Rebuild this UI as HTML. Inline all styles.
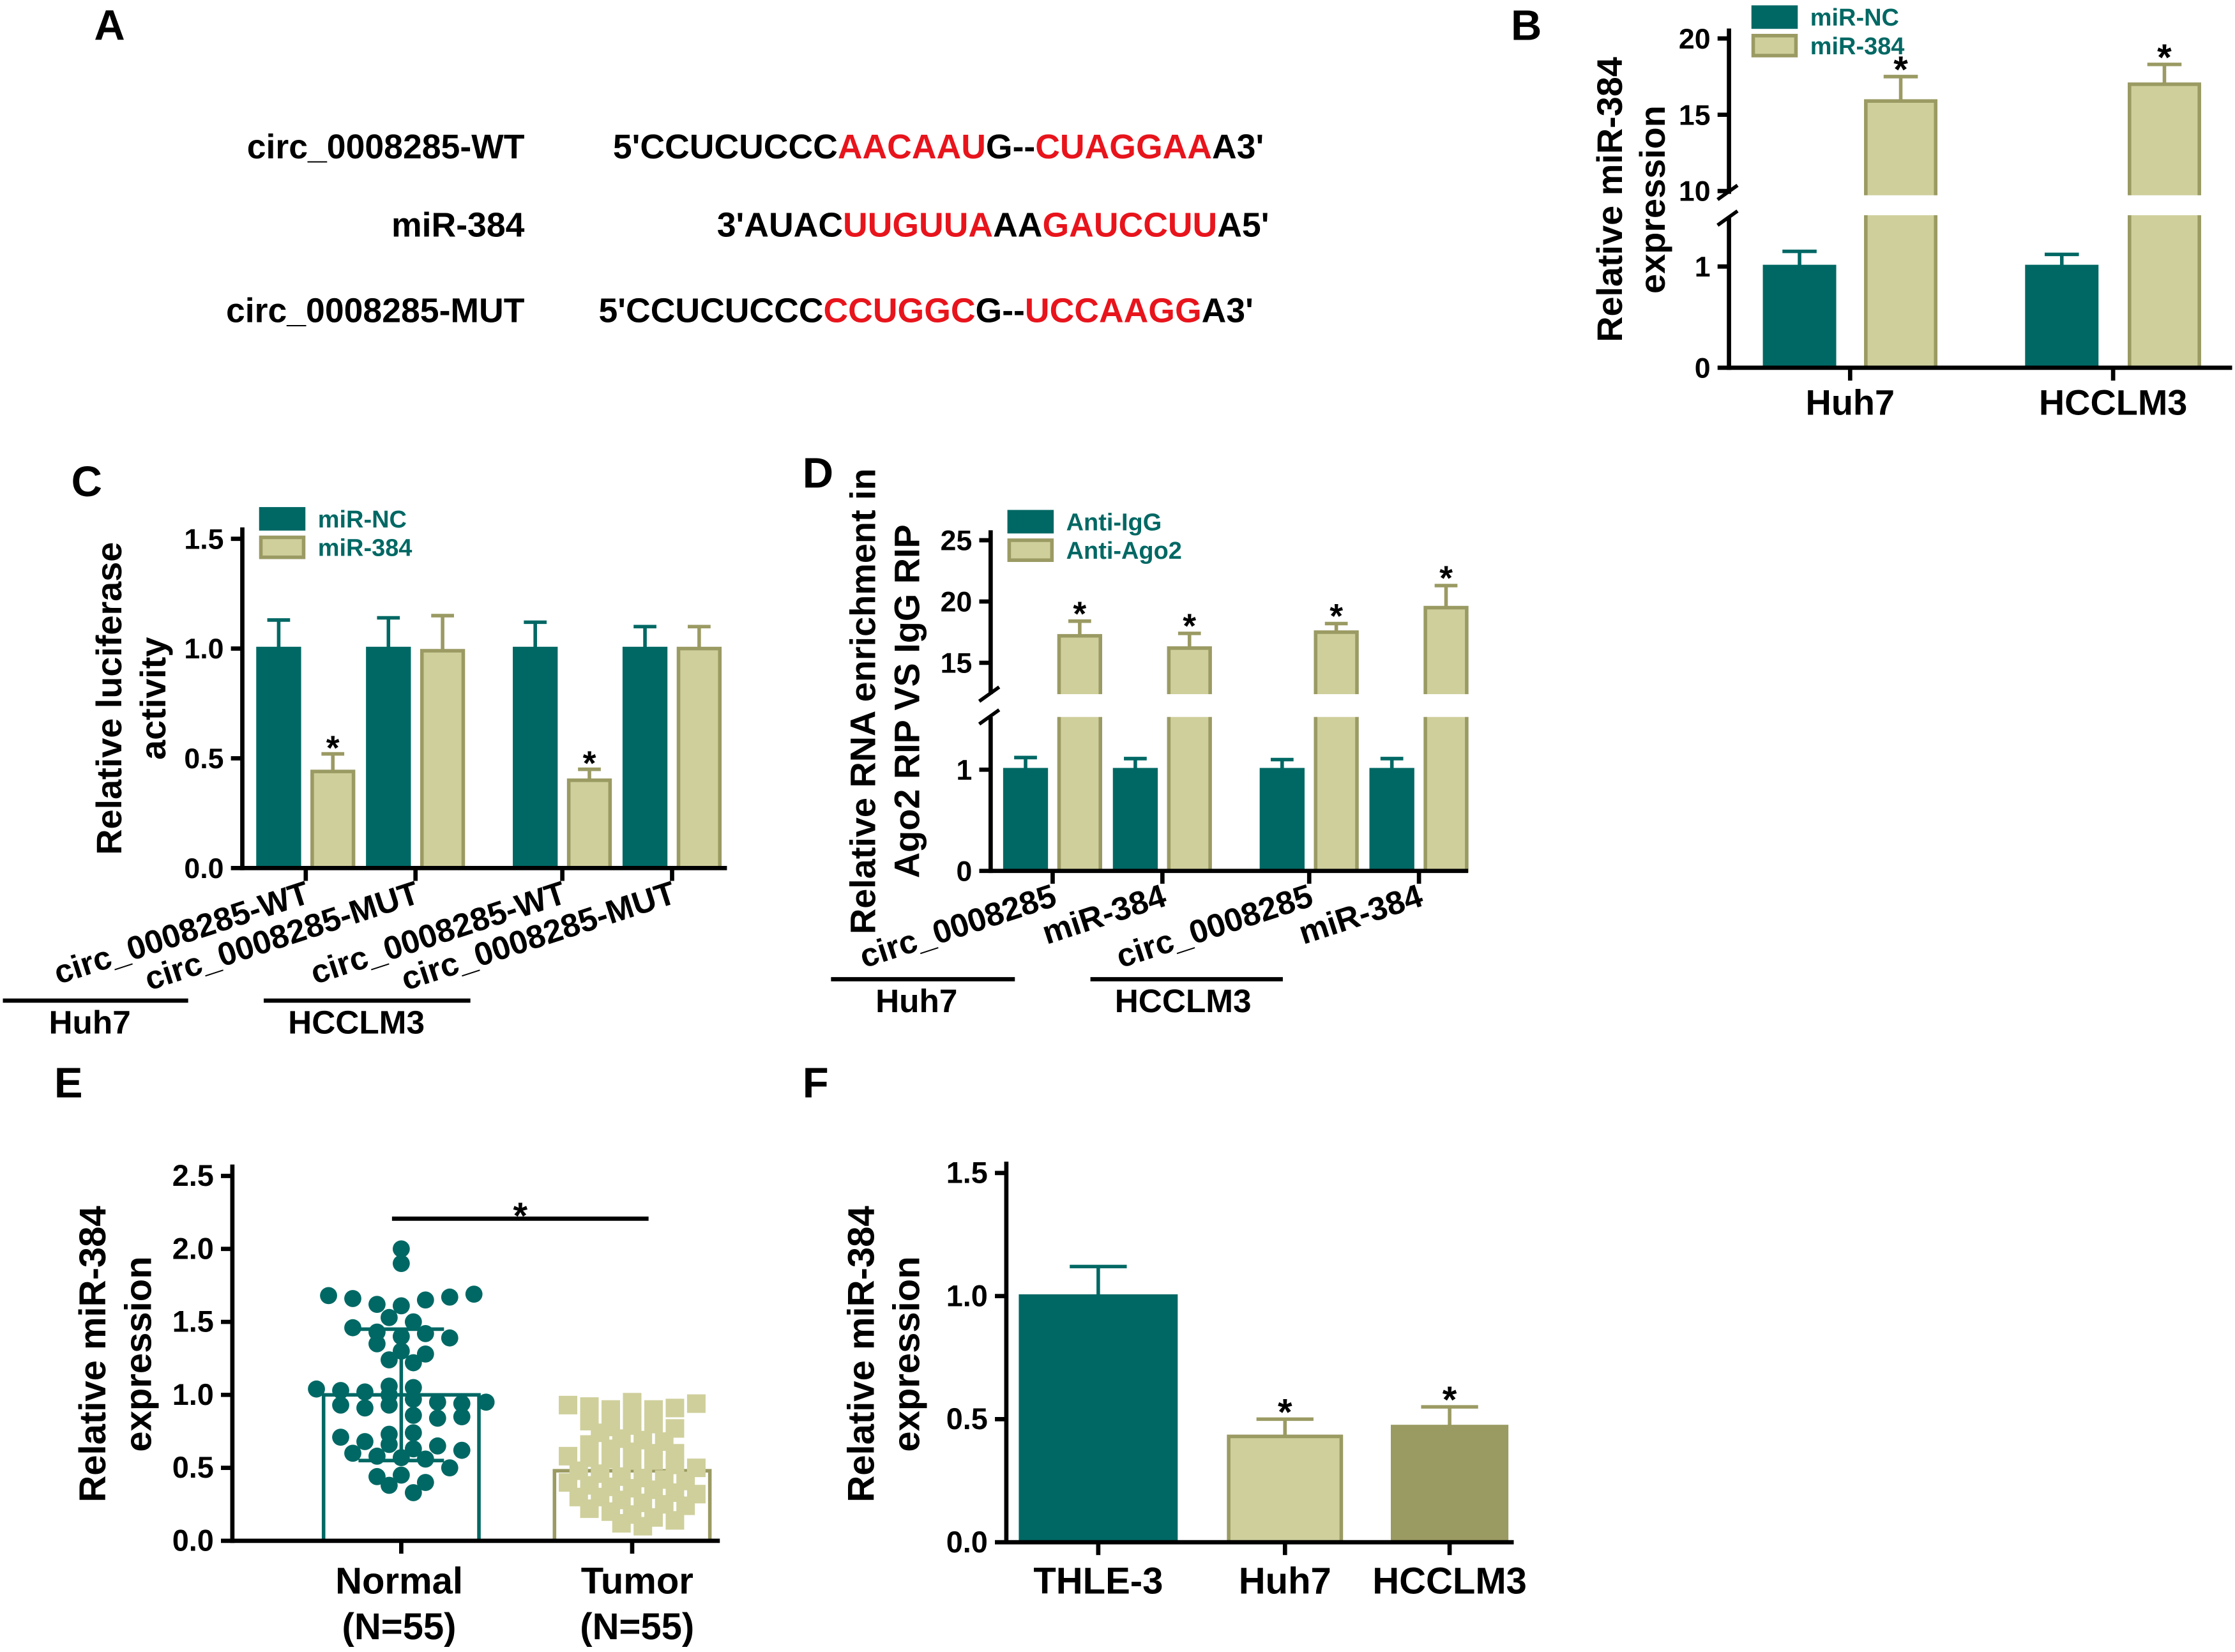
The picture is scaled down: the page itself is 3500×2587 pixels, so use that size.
<!DOCTYPE html>
<html><head><meta charset="utf-8">
<style>
html,body{margin:0;padding:0;background:#fff;}
svg{display:block;}
text{font-family:"Liberation Sans",Arial,sans-serif;font-weight:bold;}
</style></head>
<body>
<svg id="fig" width="3500" height="2587" viewBox="0 0 1568 1159" xmlns="http://www.w3.org/2000/svg">
<rect width="1568" height="1159" fill="#fff"/>
<g font-size="24">
<text x="66" y="28" font-size="30">A</text>
<text x="368" y="111" text-anchor="end">circ_0008285-WT</text>
<text x="368" y="166" text-anchor="end">miR-384</text>
<text x="368" y="226" text-anchor="end">circ_0008285-MUT</text>
<text x="430" y="111">5'CCUCUCCC<tspan fill="#e8141c">AACAAU</tspan>G--<tspan fill="#e8141c">CUAGGAA</tspan>A3'</text>
<text x="503" y="166">3'AUAC<tspan fill="#e8141c">UUGUUA</tspan>AA<tspan fill="#e8141c">GAUCCUU</tspan>A5'</text>
<text x="420" y="226">5'CCUCUCCC<tspan fill="#e8141c">CCUGGC</tspan>G--<tspan fill="#e8141c">UCCAAGG</tspan>A3'</text>
</g>
<g id="dyn"></g>
</svg>
<script>
const bCategories = ["Huh7","HCCLM3"];
const bNC = [1.0, 1.0];
const bNCerr = [0.15, 0.12];
const bMiR = [15.9, 17.0];
const bMiRerr = [1.6, 1.3];

const cCategories = ["circ_0008285-WT","circ_0008285-MUT","circ_0008285-WT","circ_0008285-MUT"];
const cNC = [1.0, 1.0, 1.0, 1.0];
const cNCerr = [0.13, 0.14, 0.12, 0.1];
const cMiR = [0.44, 0.99, 0.4, 1.0];
const cMiRerr = [0.08, 0.16, 0.05, 0.1];
const cTicks = [0.0, 0.5, 1.0, 1.5];

const dCategories = ["circ_0008285","miR-384","circ_0008285","miR-384"];
const dIgG = [1.0, 1.0, 1.0, 1.0];
const dIgGerr = [0.12, 0.11, 0.1, 0.11];
const dAgo2 = [17.2, 16.2, 17.5, 19.5];
const dAgo2err = [1.2, 1.2, 0.7, 1.8];

const eNormal = [2.0,1.9,1.68,1.66,1.62,1.61,1.65,1.67,1.69,1.53,1.5,1.46,1.43,1.4,1.42,1.39,1.35,1.3,1.28,1.24,1.22,1.06,1.05,1.04,1.03,1.02,1.0,0.97,0.95,0.93,0.94,0.91,0.93,0.95,0.86,0.84,0.85,0.73,0.71,0.74,0.68,0.66,0.63,0.65,0.62,0.6,0.58,0.57,0.56,0.5,0.44,0.45,0.4,0.38,0.33];
const eTumor = [0.95,0.93,0.92,0.9,0.89,0.9,0.91,0.94,0.82,0.78,0.79,0.8,0.77,0.74,0.7,0.69,0.68,0.66,0.63,0.61,0.6,0.6,0.58,0.57,0.56,0.55,0.55,0.52,0.5,0.48,0.46,0.44,0.43,0.42,0.41,0.4,0.38,0.37,0.36,0.35,0.33,0.32,0.3,0.3,0.28,0.26,0.25,0.24,0.22,0.2,0.18,0.16,0.14,0.12,0.1];
const eMeans = [1.0, 0.48];
const eSD = [0.45, 0.25];

const fCategories = ["THLE-3","Huh7","HCCLM3"];
const fValues = [1.0, 0.43, 0.47];
const fErr = [0.12, 0.07, 0.08];

const NS="http://www.w3.org/2000/svg";
const root=document.getElementById('dyn');
const TEAL="#006864", KH="#cfcf9c", KHS="#9a9a63", OLIVE="#9a9a63";
function mk(tag,attrs,parent){const e=document.createElementNS(NS,tag);for(const k in attrs)e.setAttribute(k,attrs[k]);(parent||root).appendChild(e);return e;}
function line(x1,y1,x2,y2,c,w,p){return mk('line',{x1,y1,x2,y2,stroke:c||'#000','stroke-width':w||3},p);}
function txt(x,y,s,size,anchor,p,fill,extra){const t=mk('text',Object.assign({x,y,'font-size':size,'text-anchor':anchor||'middle',fill:fill||'#000'},extra||{}),p);t.textContent=s;return t;}
function grp(name){const g=mk('g',{});return g;}
function bar(p,x,w,yTop,yBase,fill,stroke,name){const r=mk('rect',{x,y:yTop,width:w,height:yBase-yTop,fill,stroke,'stroke-width':2.5},p);return r;}
function errbar(p,cx,y0,y1,c,hw){line(cx,y0,cx,y1,c,2.5,p);line(cx-hw,y1,cx+hw,y1,c,2.5,p);}
function legend(p,x,y,labels,fills,strokes){labels.forEach((l,i)=>{const r=mk('rect',{x,y:y+i*20-7,width:30,height:14,fill:fills[i],stroke:strokes[i],'stroke-width':2.5},p);const t=txt(x+40,y+i*20+6,l,17,'start',p,TEAL);});}
function ytitle(p,x,y,s,size){return txt(x,y,s,size||24,'middle',p,'#000',{transform:`rotate(-90 ${x} ${y})`});}
function rotLabel(p,tx,y0,s){const x=tx+4,y=y0+24;return txt(x,y,s,23,'end',p,'#000',{transform:`rotate(-18 ${x} ${y})`});}

// Panel B
(function(){
const g=grp('panel-b');
txt(1060,28,'B',30,'start',g);
const ax=1213, base=258;
const yLow=v=>base-v*71; const yUp=v=>134-(v-10)*10.7;
const yB=v=>v>5?yUp(v):yLow(v);
const xs=[[1238,1309],[1422,1494]], bw=49;
bCategories.forEach((c,i)=>{
 const x0=xs[i][0],x1=xs[i][1];
 bar(g,x0,bw,yB(bNC[i]),base,TEAL,TEAL,'bar-b-nc-'+i);
 errbar(g,x0+bw/2,yB(bNC[i]),yB(bNC[i]+bNCerr[i]),TEAL,12);
 errbar(g,x1+bw/2,yB(bMiR[i]),yB(bMiR[i]+bMiRerr[i]),KHS,12);
 bar(g,x1,bw,yB(bMiR[i]),base,KH,KHS,'bar-b-mir-'+i);
 txt(x1+bw/2,yB(bMiR[i]+bMiRerr[i])+4,'*',26,'middle',g);
 line((x0+x1+bw)/2,base,(x0+x1+bw)/2,base+9,'#000',3,g);
 txt((x0+x1+bw)/2,291,c,25,'middle',g);
});
mk('rect',{x:1215,y:137,width:340,height:14,fill:'#fff'},g);
line(ax,20,ax,136,'#000',3,g); line(ax,152,ax,base+1.5,'#000',3,g);
line(ax-8,140,ax+6,130,'#000',2.5,g); line(ax-8,158,ax+6,148,'#000',2.5,g);
line(ax,base,1566,base,'#000',3,g);
[[20,yUp(20)],[15,yUp(15)],[10,yUp(10)],[1,yLow(1)],[0,yLow(0)]].forEach(([v,y])=>{line(ax-8,y,ax,y,'#000',3,g);txt(ax-13,y+7,String(v),20,'end',g);});
ytitle(g,1138,140,'Relative miR-384',25); ytitle(g,1168,140,'expression',25);
legend(g,1230,12,['miR-NC','miR-384'],[TEAL,KH],[TEAL,KHS]);
})();

// Panel C
(function(){
const g=grp('panel-c');
txt(50,348,'C',30,'start',g);
const ax=170, base=609, y=v=>base-v*154;
const xs=[[181,219],[258,296],[361,399],[438,476]], bw=29;
cCategories.forEach((c,i)=>{
 const x0=xs[i][0],x1=xs[i][1];
 bar(g,x0,bw,y(cNC[i]),base,TEAL,TEAL,'bar-c-nc-'+i);
 errbar(g,x0+bw/2,y(cNC[i]),y(cNC[i]+cNCerr[i]),TEAL,8);
 errbar(g,x1+bw/2,y(cMiR[i]),y(cMiR[i]+cMiRerr[i]),KHS,8);
 bar(g,x1,bw,y(cMiR[i]),base,KH,KHS,'bar-c-mir-'+i);
 if(cMiR[i]<0.7) txt(x1+bw/2,y(cMiR[i]+cMiRerr[i])+4,'*',24,'middle',g);
 const tx=(x0+x1+bw)/2; line(tx,base,tx,base+9,'#000',3,g);
 rotLabel(g,tx,base,c);
});
line(ax,370,ax,base+1.5,'#000',3,g); line(ax,base,510,base,'#000',3,g);
cTicks.forEach(v=>{line(ax-8,y(v),ax,y(v),'#000',3,g);txt(ax-13,y(v)+7,v.toFixed(1),20,'end',g);});
ytitle(g,85,490,'Relative luciferase',25); ytitle(g,116,490,'activity',25);
legend(g,183,364,['miR-NC','miR-384'],[TEAL,KH],[TEAL,KHS]);
line(2,702,132,702,'#000',3,g); txt(63,725,'Huh7',23,'middle',g);
line(185,702,330,702,'#000',3,g); txt(250,725,'HCCLM3',23,'middle',g);
})();

// Panel D
(function(){
const g=grp('panel-d');
txt(563,342,'D',30,'start',g);
const ax=695, base=611;
const yLow=v=>base-v*71; const yUp=v=>465-(v-15)*8.6;
const yB=v=>v>5?yUp(v):yLow(v);
const xs=[[705,743],[782,820],[885,923],[962,1000]], bw=29;
dCategories.forEach((c,i)=>{
 const x0=xs[i][0],x1=xs[i][1];
 bar(g,x0,bw,yB(dIgG[i]),base,TEAL,TEAL,'bar-d-igg-'+i);
 errbar(g,x0+bw/2,yB(dIgG[i]),yB(dIgG[i]+dIgGerr[i]),TEAL,8);
 errbar(g,x1+bw/2,yB(dAgo2[i]),yB(dAgo2[i]+dAgo2err[i]),KHS,8);
 bar(g,x1,bw,yB(dAgo2[i]),base,KH,KHS,'bar-d-ago2-'+i);
 txt(x1+bw/2,yB(dAgo2[i]+dAgo2err[i])+3,'*',24,'middle',g);
 const tx=(x0+x1+bw)/2; line(tx,base,tx,base+9,'#000',3,g);
 rotLabel(g,tx,base,c);
});
mk('rect',{x:697,y:487,width:340,height:16,fill:'#fff'},g);
line(ax,372,ax,487,'#000',3,g); line(ax,503,ax,base+1.5,'#000',3,g);
line(ax-8,492,ax+6,482,'#000',2.5,g); line(ax-8,508,ax+6,498,'#000',2.5,g);
line(ax,base,1030,base,'#000',3,g);
[[25,yUp(25)],[20,yUp(20)],[15,yUp(15)],[1,yLow(1)],[0,yLow(0)]].forEach(([v,y])=>{line(ax-8,y,ax,y,'#000',3,g);txt(ax-13,y+7,String(v),20,'end',g);});
ytitle(g,614,492,'Relative RNA enrichment in',25); ytitle(g,645,492,'Ago2 RIP VS IgG RIP',25);
legend(g,708,366,['Anti-IgG','Anti-Ago2'],[TEAL,KH],[TEAL,KHS]);
line(583,687,712,687,'#000',3,g); txt(643,710,'Huh7',23,'middle',g);
line(765,687,900,687,'#000',3,g); txt(830,710,'HCCLM3',23,'middle',g);
})();

// Panel E
(function(){
const g=grp('panel-e');
txt(38,770,'E',30,'start',g);
const ax=163, base=1081, y=v=>base-v*102.4;
const bx=[225,387], bw=113;
const ticks=[0,0.5,1.0,1.5,2.0,2.5];
bar(g,bx[0]+2,bw-4,y(eMeans[0]),base,'none',TEAL,'bar-e-normal');
bar(g,bx[1]+2,bw-4,y(eMeans[1]),base,'none',KHS,'bar-e-tumor');
function swarm(vals,cx,shape,color,name,bin,sp){
 const rows={};
 vals.forEach((v,i)=>{const k=Math.round(v/bin);rows[k]=rows[k]||[];rows[k].push(i);});
 vals.forEach((v,i)=>{
  const k=Math.round(v/bin); const r=rows[k]; const j=r.indexOf(i); const n=r.length;
  const x=cx+(j-(n-1)/2)*sp; const yy=y(v);
  let e;
  if(shape==='c') e=mk('circle',{cx:x,cy:yy,r:6,fill:color},g);
  else e=mk('rect',{x:x-6.5,y:yy-6.5,width:13,height:13,fill:color},g);
  
  
 });
}
swarm(eNormal,bx[0]+bw/2,'c',TEAL,'point-normal',0.11,17);
swarm(eTumor,bx[1]+bw/2,'s',KH,'point-tumor',0.09,15);
[0,1].forEach(i=>{const cx=bx[i]+bw/2,c=i?KH:TEAL;
 if(i===0){
 line(cx,y(eMeans[i]-eSD[i]),cx,y(eMeans[i]+eSD[i]),c,2.5,g);
 line(cx-30,y(eMeans[i]+eSD[i]),cx+30,y(eMeans[i]+eSD[i]),c,2.5,g);
 line(cx-30,y(eMeans[i]-eSD[i]),cx+30,y(eMeans[i]-eSD[i]),c,2.5,g);}
 line(cx,base,cx,base+9,'#000',3,g);});
line(ax,817,ax,base+1.5,'#000',3,g); line(ax,base,505,base,'#000',3,g);
ticks.forEach(v=>{line(ax-8,y(v),ax,y(v),'#000',3,g);txt(ax-13,y(v)+7,v.toFixed(1),21,'end',g);});
line(275,855,455,855,'#000',3,g); txt(365,862,'*',26,'middle',g);
txt(280,1118,'Normal',26,'middle',g); txt(280,1150,'(N=55)',26,'middle',g);
txt(447,1118,'Tumor',26,'middle',g); txt(447,1150,'(N=55)',26,'middle',g);
ytitle(g,74,950,'Relative miR-384',26); ytitle(g,106,950,'expression',26);
})();

// Panel F
(function(){
const g=grp('panel-f');
txt(563,770,'F',30,'start',g);
const ax=706, base=1082, y=v=>base-v*172.7;
const xs=[[716,109],[862,79],[977,80]];
const fills=[TEAL,KH,OLIVE], strokes=[TEAL,KHS,OLIVE];
fCategories.forEach((c,i)=>{
 const [x0,w]=xs[i], cx=x0+w/2;
 errbar(g,cx,y(fValues[i]),y(fValues[i]+fErr[i]),strokes[i],20);
 bar(g,x0,w,y(fValues[i]),base,fills[i],strokes[i],'bar-f-'+i);
 if(i>0) txt(cx,y(fValues[i]+fErr[i])+4,'*',26,'middle',g);
 line(cx,base,cx,base+9,'#000',3,g);
 txt(cx,1118,c,26,'middle',g);
});
line(ax,815,ax,base+1.5,'#000',3,g); line(ax,base,1062,base,'#000',3,g);
[0,0.5,1.0,1.5].forEach(v=>{line(ax-8,y(v),ax,y(v),'#000',3,g);txt(ax-13,y(v)+7,v.toFixed(1),21,'end',g);});
ytitle(g,613,950,'Relative miR-384',26); ytitle(g,645,950,'expression',26);
})();
</script>
</body></html>
